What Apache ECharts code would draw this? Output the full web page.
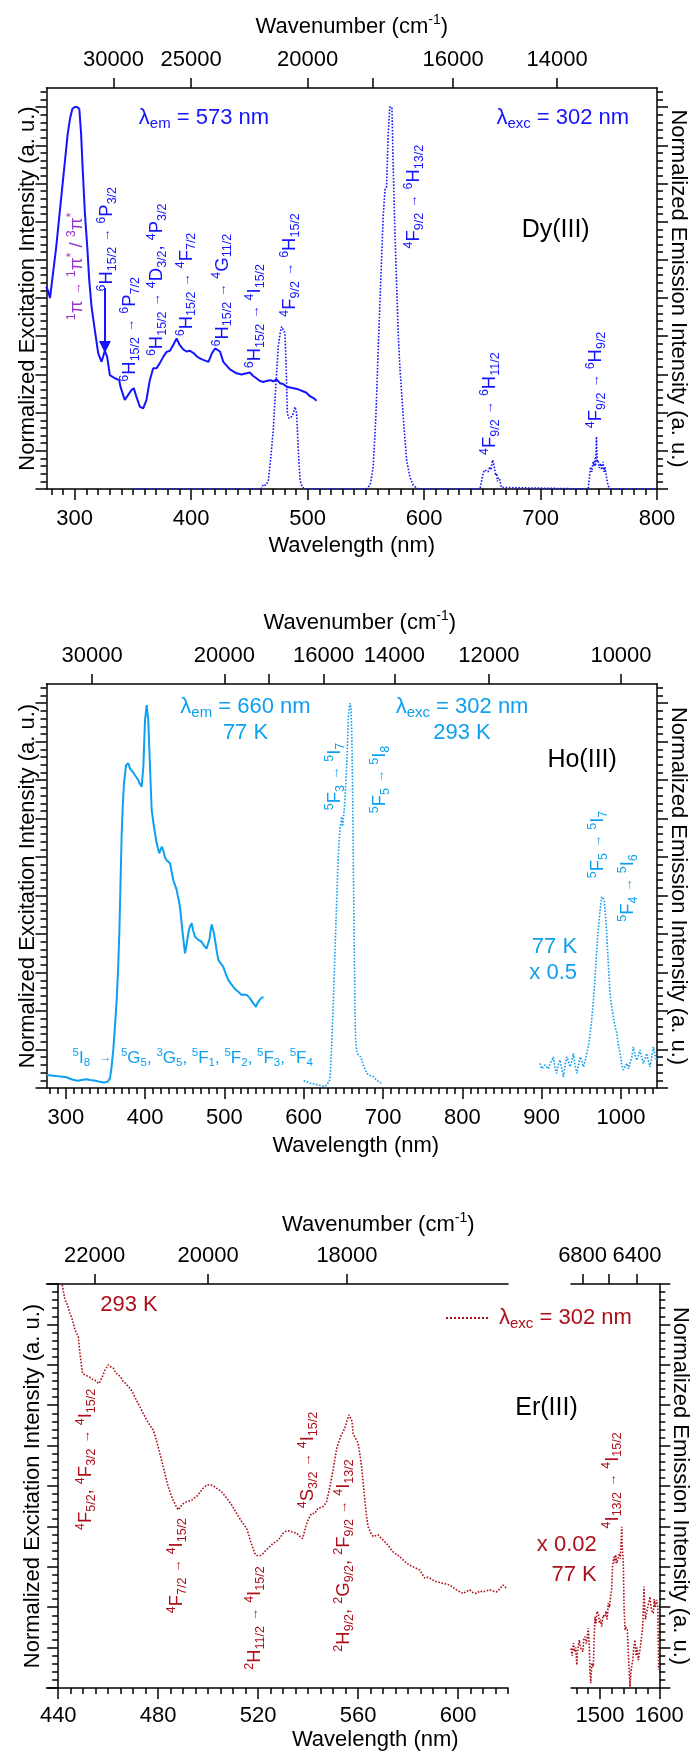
<!DOCTYPE html>
<html><head><meta charset="utf-8">
<script src="https://cdn.jsdelivr.net/npm/echarts@6/dist/echarts.min.js"></script>
<style>html,body{margin:0;padding:0;background:#fff}#c{width:694px;height:1753px}</style>
</head><body><div id="c"></div>
<script>
// ================= DATA =================
// Dy(III): excitation (solid, λem = 573 nm) and emission (dotted, λexc = 302 nm)
const dyExc = [[275.5,0.53],[277,0.52],[278.8,0.50],[280,0.53],[282,0.58],[284,0.63],[286,0.69],[288,0.75],[290,0.81],[292,0.87],[294,0.93],[296,0.97],[298,0.995],[300,1.0],[302,1.0],[304,0.995],[305.5,0.93],[307,0.83],[308.8,0.72],[310.8,0.634],[312.5,0.547],[314.5,0.477],[317.3,0.416],[320.2,0.355],[323.1,0.333],[325.9,0.362],[327.9,0.346],[330.2,0.298],[334.5,0.29],[338.2,0.285],[339.3,0.268],[343,0.233],[344.4,0.233],[348.7,0.259],[350.7,0.264],[353,0.242],[355.9,0.216],[358.8,0.211],[361.6,0.233],[364.5,0.285],[367.4,0.316],[370.3,0.316],[373,0.329],[376,0.346],[378.9,0.359],[381.8,0.362],[384.6,0.377],[387.5,0.394],[390,0.378],[393,0.366],[396,0.36],[399,0.362],[402,0.356],[405,0.347],[407.5,0.342],[410.4,0.338],[414.9,0.333],[417.8,0.355],[420.6,0.368],[421.9,0.373],[424.8,0.36],[427.6,0.333],[433.3,0.313],[439,0.303],[443.3,0.30],[447.6,0.303],[450.4,0.305],[453.3,0.296],[456,0.29],[459,0.283],[461.9,0.28],[464.8,0.283],[468,0.285],[470.5,0.282],[473.4,0.287],[476.3,0.277],[479,0.275],[482,0.268],[485,0.266],[488,0.264],[491,0.262],[493.5,0.259],[496,0.256],[499,0.252],[502,0.243],[505,0.238],[507.7,0.231]];
const dyEm = [[350,0],[460,0],[462,0.012],[464,0.01],[466.2,0.02],[468,0.07],[470.5,0.155],[472.5,0.26],[474.8,0.373],[476.5,0.41],[477.7,0.425],[479,0.42],[480.5,0.408],[481.5,0.33],[482.6,0.198],[484,0.185],[484.9,0.18],[486.5,0.19],[487.7,0.198],[489.2,0.215],[490.6,0.198],[492,0.1],[493.5,0.024],[495,0.008],[497,0],[550,0],[552,0.004],[554,0.015],[556.3,0.058],[558.6,0.189],[560.6,0.364],[562.7,0.538],[564.9,0.713],[566.4,0.783],[567.8,0.791],[569.2,0.931],[570.6,1.0],[572.4,1.0],[573.5,0.844],[575,0.669],[576.4,0.538],[577.8,0.408],[579.2,0.32],[582.1,0.189],[585,0.076],[587.8,0.032],[590.7,0.01],[593.6,0.002],[596,0],[648,0],[650.7,0.041],[652,0.05],[653.6,0.054],[655,0.045],[656.5,0.058],[657.5,0.05],[658.8,0.076],[660,0.062],[660.8,0.058],[661.5,0.035],[662.2,0.041],[663,0.02],[663.6,0.03],[665,0.024],[666.4,0.004],[668,0],[740.9,0],[742,0.03],[742.9,0.058],[744,0.045],[745.2,0.071],[746,0.06],[746.6,0.08],[747.3,0.06],[748,0.137],[748.7,0.07],[749.4,0.076],[750.3,0.055],[751.5,0.067],[752.5,0.05],[753.7,0.071],[754.5,0.045],[755.2,0.058],[756.6,0.032],[758,0.008],[760,0],[800,0]];

// Ho(III): excitation (solid, 77 K), emission 293 K (dotted), NIR emission 77 K x0.5 (dotted)
const hoExc = [[275.9,0.034],[288,0.031],[301,0.028],[308,0.022],[315,0.019],[320,0.021],[326,0.023],[331,0.021],[337.6,0.019],[343,0.016],[348.7,0.014],[353,0.017],[355.7,0.025],[357.5,0.05],[359.9,0.099],[362,0.16],[364.2,0.229],[366,0.31],[367.5,0.402],[369,0.53],[370.5,0.662],[372,0.74],[373.4,0.792],[376,0.839],[378.8,0.844],[381,0.83],[383.1,0.826],[385,0.82],[387.3,0.813],[389.5,0.808],[391.5,0.80],[393.5,0.79],[395.7,0.783],[397.8,0.835],[399.9,0.956],[402,0.995],[404,0.956],[406.2,0.835],[408.3,0.722],[411.2,0.679],[414.6,0.636],[417.9,0.61],[420.9,0.627],[422.9,0.618],[425,0.60],[427.2,0.592],[431.4,0.584],[435.6,0.54],[439.8,0.515],[444,0.471],[447.4,0.402],[450.3,0.35],[452.5,0.375],[454.5,0.402],[456.5,0.42],[458.7,0.428],[460.5,0.41],[462.9,0.393],[465,0.39],[467.1,0.385],[469,0.383],[471.4,0.38],[473.5,0.372],[475.5,0.367],[477.5,0.362],[479.7,0.359],[481.5,0.39],[482.7,0.411],[484,0.425],[485.2,0.428],[486.5,0.405],[488.2,0.385],[490,0.36],[492.3,0.333],[495,0.325],[498.6,0.315],[502,0.295],[504.9,0.281],[508,0.272],[511.2,0.263],[514,0.256],[517.5,0.25],[519.5,0.246],[521.8,0.242],[525,0.243],[528.1,0.242],[530,0.238],[532.3,0.233],[534,0.228],[536.4,0.22],[538,0.215],[539.8,0.211],[541,0.218],[542.8,0.224],[545.5,0.232],[549.1,0.237]];
const hoEm = [[600,0.019],[604,0.016],[609.3,0.012],[614,0.01],[618,0.008],[622,0.006],[626.1,0.004],[629,0.008],[631.8,0.016],[633.2,0.025],[635,0.1],[637.4,0.229],[639.5,0.36],[641.6,0.489],[643.5,0.6],[645.8,0.679],[647,0.69],[648,0.705],[649,0.68],[650.1,0.679],[651,0.72],[652.5,0.77],[654.2,0.835],[655.3,0.9],[656.3,0.965],[657.5,0.99],[658.4,1.0],[659.5,0.99],[660.5,0.93],[661.5,0.8],[662.5,0.6],[663.5,0.4],[664.5,0.22],[665.4,0.125],[667,0.095],[669,0.085],[672,0.081],[675,0.06],[679.4,0.038],[683,0.033],[687.8,0.029],[692,0.02],[695,0.015],[699,0.012]];
const hoEmNir = [[898,0.064],[900,0.05],[902.2,0.047],[904,0.06],[906.4,0.055],[908.5,0.05],[910.6,0.064],[912.5,0.07],[914.8,0.081],[917,0.05],[919,0.038],[921,0.06],[923.2,0.073],[925.3,0.05],[927.4,0.029],[929.5,0.06],[931.6,0.081],[933.7,0.07],[935.8,0.055],[938,0.07],[940,0.09],[942,0.06],[944.3,0.038],[946.4,0.06],[948.5,0.081],[950.6,0.07],[952.7,0.055],[954.8,0.07],[956.9,0.09],[959,0.11],[961.1,0.142],[963.2,0.18],[965.3,0.229],[967.4,0.29],[969.5,0.359],[971.2,0.41],[972.8,0.445],[974.3,0.475],[975.7,0.497],[977.2,0.495],[978.7,0.489],[980.4,0.45],[982,0.402],[984.1,0.32],[986.2,0.246],[988.3,0.21],[990.4,0.185],[992.5,0.16],[994.7,0.142],[996.8,0.11],[998.9,0.09],[1001,0.06],[1003,0.047],[1005,0.055],[1007.3,0.064],[1009.4,0.05],[1011.5,0.055],[1013.5,0.08],[1015.6,0.107],[1017.8,0.085],[1019.9,0.072],[1022,0.085],[1024,0.099],[1026,0.08],[1028.2,0.064],[1030.3,0.075],[1032.5,0.09],[1034.5,0.07],[1036.6,0.055],[1038.7,0.08],[1040.8,0.107],[1043,0.085],[1045,0.072]];

// Er(III): visible spectrum 293 K (dotted) and NIR emission 77 K x0.02 (dotted)
const erVis = [[441.6,0.998],[442.7,0.96],[443.3,0.955],[444.7,0.927],[445.5,0.915],[446.7,0.886],[448,0.87],[448.7,0.828],[449.7,0.779],[450.7,0.775],[451.7,0.772],[452.7,0.769],[453.7,0.764],[454.7,0.762],[455.5,0.757],[456.4,0.754],[457.4,0.767],[458.7,0.787],[459.3,0.79],[460,0.80],[461,0.795],[462,0.792],[463,0.78],[464,0.775],[465,0.77],[466,0.758],[467,0.754],[468,0.746],[469,0.74],[470,0.729],[471.3,0.712],[472.7,0.696],[474,0.68],[475.4,0.663],[476.7,0.65],[478,0.639],[479,0.62],[480,0.597],[481,0.572],[482,0.548],[483,0.523],[484,0.498],[485,0.48],[486,0.465],[487,0.452],[488,0.441],[488.7,0.447],[489.4,0.453],[490.4,0.458],[491.4,0.461],[492.4,0.463],[493.4,0.465],[494.4,0.47],[495.4,0.474],[496.4,0.482],[497.4,0.49],[498.4,0.497],[499.4,0.502],[500.4,0.503],[501.4,0.502],[502.4,0.499],[503.4,0.494],[504.4,0.49],[505.4,0.486],[506.4,0.478],[507.4,0.47],[508.4,0.462],[509.4,0.453],[510.4,0.443],[511.4,0.432],[512.4,0.422],[513.4,0.412],[514.4,0.404],[515.4,0.395],[516.2,0.38],[517,0.362],[518,0.345],[518.7,0.333],[519.4,0.328],[520,0.325],[521,0.328],[522,0.333],[523,0.34],[524,0.346],[525,0.352],[526,0.358],[527,0.362],[528,0.366],[529,0.374],[530,0.383],[531,0.388],[531.6,0.391],[532.5,0.389],[533.4,0.387],[534.4,0.385],[535.4,0.383],[536.7,0.375],[537.8,0.37],[538.7,0.391],[539.3,0.405],[540,0.416],[540.7,0.425],[541.4,0.432],[542,0.433],[542.7,0.432],[543.4,0.44],[544,0.445],[545,0.447],[546,0.449],[546.7,0.455],[547.4,0.461],[548,0.478],[548.7,0.498],[549.4,0.52],[550,0.54],[550.8,0.57],[551.6,0.597],[552.3,0.61],[553,0.622],[553.8,0.632],[554.7,0.643],[555.5,0.66],[556.4,0.676],[557,0.674],[557.6,0.66],[558,0.63],[559,0.618],[560,0.606],[560.7,0.58],[561.4,0.548],[562,0.51],[562.7,0.465],[563.3,0.43],[564,0.399],[565,0.385],[566,0.375],[567,0.377],[568,0.379],[568.7,0.374],[569.4,0.37],[570.4,0.364],[571.4,0.358],[572.7,0.347],[574,0.337],[575.3,0.331],[576.7,0.325],[578,0.317],[579.4,0.309],[580.7,0.304],[582,0.3],[583.4,0.296],[584.7,0.292],[585.7,0.282],[586.7,0.272],[587.7,0.274],[588.7,0.272],[590,0.267],[591.4,0.263],[592.7,0.261],[594,0.259],[595.4,0.257],[596.7,0.255],[598,0.249],[599.4,0.243],[600.7,0.238],[602,0.234],[603.4,0.239],[604.7,0.243],[606,0.236],[607.4,0.234],[608.7,0.24],[610,0.238],[611.3,0.24],[612.7,0.243],[614,0.24],[615.4,0.238],[616.7,0.245],[618,0.255],[619.4,0.247]];
const erNir = [[1451,0.098],[1453,0.08],[1455,0.111],[1457,0.09],[1459,0.1],[1460.7,0.057],[1462,0.09],[1465,0.119],[1467,0.1],[1469,0.104],[1471,0.09],[1472.5,0.12],[1474.7,0.127],[1477,0.11],[1480.3,0.148],[1482,0.1],[1483,0.04],[1484.3,0.012],[1486,0.06],[1488.7,0.053],[1490,0.12],[1491.6,0.176],[1493,0.16],[1495,0.19],[1497.2,0.185],[1499,0.16],[1500.5,0.17],[1502.8,0.152],[1505,0.18],[1508.4,0.176],[1510,0.19],[1512,0.17],[1514,0.21],[1516,0.2],[1518,0.23],[1519.7,0.243],[1521,0.3],[1523.6,0.325],[1525,0.31],[1526.5,0.33],[1528.2,0.309],[1530,0.32],[1532.6,0.333],[1534,0.32],[1535.5,0.36],[1536.6,0.399],[1537.5,0.35],[1539.3,0.309],[1540.5,0.2],[1542.2,0.144],[1544,0.15],[1546,0.144],[1548,0.08],[1550.6,0.003],[1552,0.04],[1555.1,0.069],[1557,0.1],[1559,0.119],[1561,0.08],[1562.5,0.1],[1564.6,0.069],[1567,0.09],[1570.3,0.094],[1572,0.15],[1574.2,0.251],[1575.5,0.2],[1576.5,0.17],[1578.8,0.168],[1580.5,0.2],[1582,0.21],[1584.3,0.226],[1586,0.2],[1588,0.19],[1589.9,0.185],[1591.5,0.22],[1593,0.2],[1595.6,0.218],[1597.5,0.2],[1599,0.045]];

// Tick labels
const dyWavelengthLabels = [300, 400, 500, 600, 700, 800];
const dyWavenumberTicks = [30000, 25000, 20000, 18000, 16000, 14000];
const dyWavenumberLabels = [30000, 25000, 20000, 16000, 14000];
const hoWavelengthLabels = [300, 400, 500, 600, 700, 800, 900, 1000];
const hoWavenumberTicks = [30000, 20000, 18000, 16000, 14000, 12000, 10000];
const hoWavenumberLabels = [30000, 20000, 16000, 14000, 12000, 10000];
const erWavelengthLabels = [440, 480, 520, 560, 600];
const erWavenumberLabels = [22000, 20000, 18000];
const erNirWavelengthLabels = [1500, 1600];
const erNirWavenumberTicks = [6800, 6600, 6400];
const erNirWavenumberLabels = [6800, 6400];

// Annotations: [text, wavelength, intensity]  (^ superscript, _ subscript)
const dyPiLabel = ['^1π → ^1π^* / ^3π^*', 302.0, 0.442];
const dyTransitions = [
  ['^6H_{15/2} → ^6P_{3/2}', 327.4, 0.517],
  ['^6H_{15/2} → ^6P_{7/2}', 347.5, 0.281],
  ['^6H_{15/2} → ^4D_{3/2}, ^4P_{3/2}', 370.6, 0.348],
  ['^6H_{15/2} → ^4F_{7/2}', 396.0, 0.400],
  ['^6H_{15/2} → ^4G_{11/2}', 426.9, 0.373],
  ['^6H_{15/2} → ^4I_{15/2}', 454.8, 0.316],
  ['^4F_{9/2} → ^6H_{15/2}', 484.8, 0.451],
  ['^4F_{9/2} → ^6H_{13/2}', 591.2, 0.630],
  ['^4F_{9/2} → ^6H_{11/2}', 656.5, 0.089],
  ['^4F_{9/2} → ^6H_{9/2}', 747.3, 0.159]
];
const dyArrow = [[326, 0.526], [326, 0.372]];
const hoTransitions = [
  ['^5F_5 → ^5I_8', 696.2, 0.714],
  ['^5F_3 → ^5I_7', 639.5, 0.722],
  ['^5F_5 → ^5I_7', 970.5, 0.545],
  ['^5F_4 → ^5I_6', 1009.3, 0.432]
];
const hoBandLabel = ['^5I_8  →  ^5G_5, ^3G_5, ^5F_1, ^5F_2, ^5F_3, ^5F_4', 308.5, 0.078];
const erTransitions = [
  ['^4F_{5/2}, ^4F_{3/2} → ^4I_{15/2}', 451.1, 0.391],
  ['^4F_{7/2} → ^4I_{15/2}', 487.5, 0.185],
  ['^2H_{11/2} → ^4I_{15/2}', 518.7, 0.045],
  ['^4S_{3/2} → ^4I_{15/2}', 539.9, 0.445],
  ['^2H_{9/2}, ^2G_{9/2}, ^2F_{9/2} → ^4I_{13/2}', 554.3, 0.090]
];
const erNirTransitions = [['^4I_{13/2} → ^4I_{15/2}', 1521.1, 0.395]];

// ================= STYLE / HELPERS =================
const FONT = '"Liberation Sans", Arial, Helvetica, sans-serif';
const K = '#000';
const BLUE = '#1414ff', PURPLE = '#9933cc', CYAN = '#0ea0f0', RED = '#ac0f1a';

function toRich(s, sfx) {
  sfx = sfx || '';
  let out = '', buf = '';
  const flush = () => { if (buf) { out += '{m' + sfx + '|' + buf + '}'; buf = ''; } };
  for (let i = 0; i < s.length; i++) {
    const c = s[i];
    if (c === '^' || c === '_') {
      flush();
      let g;
      if (s[i + 1] === '{') { const j = s.indexOf('}', i + 2); g = s.slice(i + 2, j); i = j; }
      else { g = s[i + 1]; i++; }
      out += '{' + (c === '^' ? 'p' : 'q') + sfx + '|' + g + '}';
    } else if (c === '→') { flush(); out += '{r' + sfx + '|→}'; }
    else buf += c;
  }
  flush();
  return out;
}
function richSet(color) {
  const base = {color, fontFamily: FONT, opacity: 1, textBorderWidth: 0};
  return {
    m: {...base, fontSize: 18.5, lineHeight: 24},
    p: {...base, fontSize: 12.5, lineHeight: 12, verticalAlign: 'top'},
    q: {...base, fontSize: 12.5, lineHeight: 12, verticalAlign: 'bottom'},
    r: {...base, fontSize: 13, lineHeight: 24},
    m2: {...base, fontSize: 17, lineHeight: 22},
    p2: {...base, fontSize: 11.5, lineHeight: 11, verticalAlign: 'top'},
    q2: {...base, fontSize: 11.5, lineHeight: 11, verticalAlign: 'bottom'},
    r2: {...base, fontSize: 12, lineHeight: 22},
    L: {...base, fontSize: 22, lineHeight: 26},
    l: {...base, fontSize: 15, lineHeight: 13, verticalAlign: 'bottom'},
    T: {...base, fontSize: 22, lineHeight: 26},
    U: {...base, fontSize: 22, lineHeight: 30},
    E: {...base, fontSize: 25, lineHeight: 30, color: K}
  };
}
function annSeries(xi, yi, color, items) {
  return {
    type: 'scatter', xAxisIndex: xi, yAxisIndex: yi, silent: true, clip: false, z: 10,
    symbol: 'circle', symbolSize: 1, itemStyle: {color: 'rgba(0,0,0,0)', opacity: 1}, animation: false,
    emphasis: {disabled: true},
    label: {show: true, position: 'inside', formatter: p => p.data.txt, rich: richSet(color), color,
      opacity: 1, textBorderWidth: 0},
    data: items.map(it => ({
      value: [it.x, it.y], txt: it.txt,
      label: {show: true, rotate: it.rot || 0, align: it.align || 'left', verticalAlign: 'middle'}
    }))
  };
}
const rot = (arr) => arr.map(a => ({txt: toRich(a[0]), x: a[1], y: a[2], rot: 90}));
const range = (a, b, s) => { const r = []; for (let v = a; v <= b + 1e-9; v += s) r.push(+v.toFixed(4)); return r; };
const line = (c, w) => ({color: c, width: w});

function bottomPair(g, min, max, majors, minors, gap, margin, pad) {
  return [{
    type: 'value', gridIndex: g, position: 'bottom', min, max,
    axisLine: {show: true, onZero: false, lineStyle: line(K, 1.5)},
    axisTick: {show: true, customValues: majors, length: 11, lineStyle: line(K, 1.5)},
    axisLabel: {show: true, customValues: majors, formatter: v => String(Math.round(v)), margin, fontSize: 22, color: K, fontFamily: FONT},
    splitLine: {show: false},
    name: 'Wavelength (nm)', nameLocation: 'middle', nameGap: gap, nameMoveOverlap: false,
    nameTextStyle: {fontSize: 22, color: K, fontFamily: FONT, padding: pad || 0}
  }, {
    type: 'value', gridIndex: g, position: 'bottom', min, max,
    axisLine: {show: false, onZero: false},
    axisTick: {show: true, customValues: minors, length: 6, lineStyle: line(K, 1.5)},
    axisLabel: {show: false}, splitLine: {show: false}
  }];
}
function topAxis(g, min, max, ticks, labels, gap, margin, pad) {
  return {
    type: 'value', gridIndex: g, position: 'top', min, max,
    axisLine: {show: true, onZero: false, lineStyle: line(K, 1.5)},
    axisTick: {show: true, customValues: ticks.map(w => 1e7 / w), length: 10, lineStyle: line(K, 1.5)},
    axisLabel: {show: true, customValues: labels.map(w => 1e7 / w), formatter: v => String(Math.round(1e7 / v / 10) * 10),
      margin, fontSize: 22, color: K, fontFamily: FONT},
    splitLine: {show: false},
    name: '{t|Wavenumber (cm}{u|-1}{t|)}', nameLocation: 'middle', nameGap: gap, nameMoveOverlap: false,
    nameTextStyle: {padding: pad || 0, rich: {
      t: {fontSize: 22, lineHeight: 28, color: K, fontFamily: FONT},
      u: {fontSize: 14, lineHeight: 14, verticalAlign: 'top', color: K, fontFamily: FONT}}}
  };
}
const yMajor = range(0, 1.0, 0.1);
function yPair(g, pos, max, name, gap, offset) {
  const minors = range(0.02, max - 0.005, 0.02).filter(v => Math.abs(v * 10 - Math.round(v * 10)) > 1e-6);
  return [{
    type: 'value', gridIndex: g, position: pos, min: 0, max, offset: offset || 0,
    axisLine: {show: true, onZero: false, lineStyle: line(K, 1.5)},
    axisTick: {show: true, customValues: yMajor, length: 11, lineStyle: line(K, 1.5)},
    axisLabel: {show: false}, splitLine: {show: false},
    name, nameLocation: 'middle', nameGap: gap, nameRotate: pos === 'left' ? 90 : -90, nameMoveOverlap: false,
    nameTextStyle: {fontSize: 22, color: K, fontFamily: FONT}
  }, {
    type: 'value', gridIndex: g, position: pos, min: 0, max, offset: offset || 0,
    axisLine: {show: false, onZero: false},
    axisTick: {show: true, customValues: minors, length: 6, lineStyle: line(K, 1.5)},
    axisLabel: {show: false}, splitLine: {show: false}
  }];
}
const EXC = 'Normalized Excitation Intensity (a. u.)';
const EMI = 'Normalized Emission Intensity (a. u.)';
const pts = a => a.map(p => [p[0], p[1]]);

// ================= OPTION =================
const xAxis = [
  ...bottomPair(0, 275.8, 800, dyWavelengthLabels, range(280, 800, 10), 46, 19),
  topAxis(0, 275.8, 800, dyWavenumberTicks, dyWavenumberLabels, 47, 17),
  ...bottomPair(1, 275.7, 1045.4, hoWavelengthLabels, range(280, 1040, 10), 47, 19, [0, 0, 0, 8]),
  topAxis(1, 275.7, 1045.4, hoWavenumberTicks, hoWavenumberLabels, 47, 17, [0, 0, 0, 16]),
  ...bottomPair(2, 435.3, 620, erWavelengthLabels, range(440, 620, 5), 41, 17, [0, 0, 0, 196]),
  topAxis(2, 435.3, 620, erWavenumberLabels, erWavenumberLabels, 45, 17, [0, 0, 0, 202]),
  ...bottomPair(3, 1451, 1600, erNirWavelengthLabels, range(1460, 1600, 20), 41, 17, [0, 0, 0, 0]),
  topAxis(3, 1451, 1600, erNirWavenumberTicks, erNirWavenumberLabels, 45, 17)
];
xAxis[9].name = ''; xAxis[11].name = '';
const yAxis = [
  ...yPair(0, 'left', 1.05, EXC, 8), ...yPair(0, 'right', 1.05, EMI, 10),
  ...yPair(1, 'left', 1.05, EXC, 8), ...yPair(1, 'right', 1.05, EMI, 10),
  ...yPair(2, 'left', 1.0, EXC, 14, -11.7),
  ...yPair(3, 'right', 1.0, EMI, 10)
];

const solid = (name, xi, yi, data, color) => ({
  name, type: 'line', xAxisIndex: xi, yAxisIndex: yi, data: pts(data), showSymbol: false, symbol: 'none',
  lineStyle: {color, width: 2}, itemStyle: {color}, silent: true, animation: false
});
const dotted = (name, xi, yi, data, color) => ({
  name, type: 'line', xAxisIndex: xi, yAxisIndex: yi, data: pts(data), showSymbol: false, symbol: 'none',
  lineStyle: {color, width: 1.6, type: 'dotted'}, itemStyle: {color}, silent: true, animation: false
});

const dyExcSeries = solid('Dy exc', 0, 0, dyExc, BLUE);
dyExcSeries.markLine = {
  silent: true, animation: false, symbol: ['none', 'triangle'], symbolSize: 12,
  lineStyle: {color: BLUE, width: 2, type: 'solid'}, itemStyle: {color: BLUE}, label: {show: false},
  emphasis: {disabled: true},
  data: [[{coord: dyArrow[0]}, {coord: dyArrow[1]}]]
};

const series = [
  dyExcSeries,
  dotted('Dy em', 0, 0, dyEm, BLUE),
  annSeries(0, 0, PURPLE, [{txt: toRich(dyPiLabel[0]), x: dyPiLabel[1], y: dyPiLabel[2], rot: 90}]),
  annSeries(0, 0, BLUE, [
    ...rot(dyTransitions),
    {txt: '{L|λ}{l|em}{L| = 573 nm}', x: 411.0, y: 0.971, align: 'center'},
    {txt: '{L|λ}{l|exc}{L| = 302 nm}', x: 719.1, y: 0.971, align: 'center'},
    {txt: '{E|Dy(III)}', x: 713.0, y: 0.678, align: 'center'}
  ]),
  solid('Ho exc', 3, 4, hoExc, CYAN),
  dotted('Ho em', 3, 4, hoEm, CYAN),
  dotted('Ho em NIR', 3, 4, hoEmNir, CYAN),
  annSeries(3, 4, CYAN, [
    ...rot(hoTransitions),
    {txt: toRich(hoBandLabel[0], '2'), x: hoBandLabel[1], y: hoBandLabel[2], align: 'left'},
    {txt: '{L|λ}{l|em}{L| = 660 nm}\n{T|77 K}', x: 526.6, y: 0.956, align: 'center'},
    {txt: '{L|λ}{l|exc}{L| = 302 nm}\n{T|293 K}', x: 799.6, y: 0.956, align: 'center'},
    {txt: '{E|Ho(III)}', x: 951.0, y: 0.852, align: 'center'},
    {txt: '{T|77 K}\n{T|x 0.5}', x: 944.6, y: 0.333, align: 'right'}
  ]),
  dotted('ErVis', 6, 8, erVis, RED),
  annSeries(6, 8, RED, [
    ...rot(erTransitions),
    {txt: '{T|293 K}', x: 468.3, y: 0.948, align: 'center'},
    {txt: '{E|Er(III)}', x: 635.4, y: 0.692, align: 'center'}
  ]),
  dotted('Er NIR', 9, 10, erNir, RED),
  annSeries(9, 10, RED, [
    ...rot(erNirTransitions),
    {txt: '{U|x 0.02}\n{U|77 K}', x: 1494.4, y: 0.317, align: 'right'}
  ])
];

const option = {
  animation: false,
  textStyle: {fontFamily: FONT},
  grid: [
    {left: 46.5, top: 88, width: 610.5, height: 401, outerBoundsMode: 'none'},
    {left: 46.5, top: 684, width: 610.5, height: 404, outerBoundsMode: 'none'},
    {left: 46.5, top: 1284, width: 461.5, height: 404, outerBoundsMode: 'none'},
    {left: 571, top: 1284, width: 88.3, height: 404, outerBoundsMode: 'none'}
  ],
  legend: {
    show: true, data: ['ErVis'], left: 440, top: 1302, itemWidth: 42, itemHeight: 12, selectedMode: false,
    itemStyle: {opacity: 0},
    formatter: () => '{L|λ}{l|exc}{L| = 302 nm}',
    textStyle: {padding: [0, 0, 0, 6], rich: richSet(RED)}
  },
  xAxis, yAxis, series
};
const chart = echarts.init(document.getElementById('c'), null, {renderer: 'canvas'});
chart.setOption(option);
</script></body></html>
